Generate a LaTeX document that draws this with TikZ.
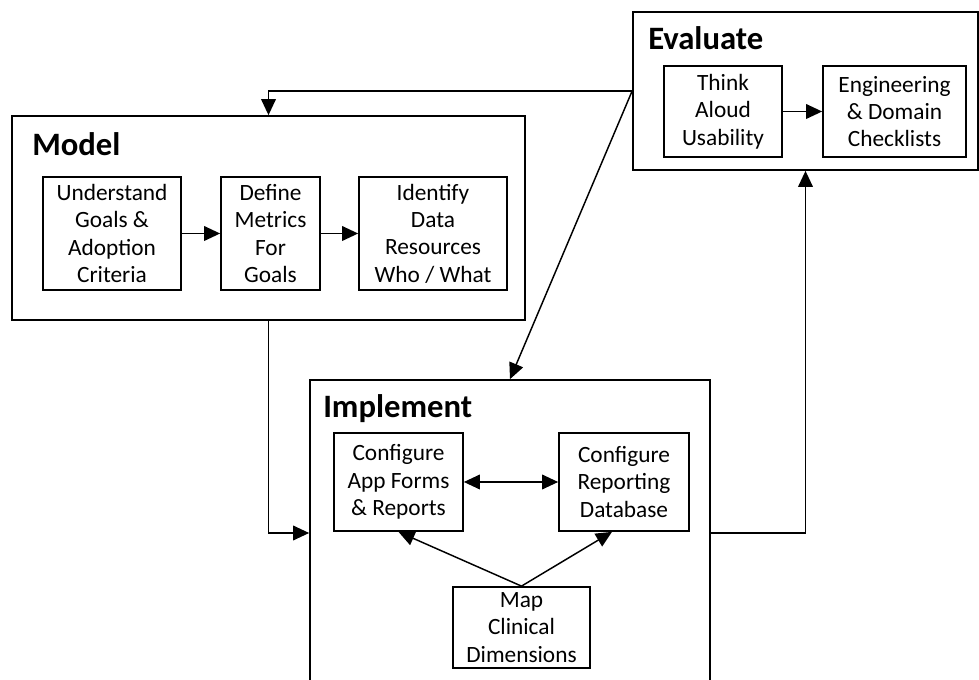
\documentclass[tikz,border=0pt]{standalone}
\usepackage{fontspec}
\setmainfont{Carlito}
\usetikzlibrary{arrows.meta}
\newcommand\px{0.75pt}
\tikzset{
  stage/.style={draw,line width=1.3pt,inner sep=0pt},
  task/.style={draw,line width=1.3pt,inner sep=0pt,align=center,
    font=\fontsize{17.5}{20.5}\selectfont},
  stagetitle/.style={anchor=base west,inner sep=0pt,
    font=\fontsize{24.5}{28}\selectfont\bfseries},
  tip/.tip={Triangle[length=12pt,width=11pt]},
  flow/.style={line width=1.1pt,-tip}
}
\begin{document}
\begin{tikzpicture}[x=\px,y=-\px]
\useasboundingbox (0,0) rectangle (979,680);
\clip (0,0) rectangle (979,680);

% stages
\node[stage,minimum width=345*\px,minimum height=158*\px] (evaluate) at (805.5,91) {};
\node[stage,minimum width=513*\px,minimum height=204*\px] (model) at (268.5,218) {};
\node[stage,minimum width=400*\px,minimum height=306*\px] (implement) at (510,533) {};

\node[stagetitle] (evaltitle) at (648,50) {Evaluate};
\node[stagetitle] (modeltitle) at (32,156) {Model};
\node[stagetitle] (impltitle) at (323,418) {Implement};

% evaluate tasks
\node[task,minimum width=118*\px,minimum height=91*\px] (think) at (723,111.5) {Think\\Aloud\\Usability};
\node[task,minimum width=143*\px,minimum height=91*\px] (checklists) at (894.5,111.5) {Engineering\\\& Domain\\Checklists};

% model tasks
\node[task,minimum width=138*\px,minimum height=113*\px] (understand) at (112,233.5) {Understand\\Goals \&\\Adoption\\Criteria};
\node[task,minimum width=99*\px,minimum height=113*\px] (metrics) at (270.5,233.5) {Define\\Metrics\\For\\Goals};
\node[task,minimum width=148*\px,minimum height=113*\px] (resources) at (433,233.5) {Identify\\Data\\Resources\\Who / What};

% implement tasks
\node[task,minimum width=129*\px,minimum height=98*\px] (appforms) at (398.5,482) {Configure\\App Forms\\\& Reports};
\node[task,minimum width=130*\px,minimum height=98*\px] (repdb) at (624,482) {Configure\\Reporting\\Database};
\node[task,minimum width=137*\px,minimum height=81*\px] (mapdims) at (521.5,627.5) {Map\\Clinical\\Dimensions};

% inner links
\draw[flow] (think) -- (checklists);
\draw[flow] (understand) -- (metrics);
\draw[flow] (metrics) -- (resources);
\draw[flow,tip-tip] (appforms) -- (repdb);
\draw[flow] (mapdims.north) -- (appforms.south);
\draw[flow] (mapdims.north) -- ([xshift=-12*\px]repdb.south);

% cycle
\draw[flow] (evaluate.west) -| (model.north);
\draw[flow] (evaluate.west) -- (implement.north);
\draw[flow] (model.south) |- (implement.west);
\draw[flow] (implement.east) -| (evaluate.south);
\end{tikzpicture}
\end{document}
